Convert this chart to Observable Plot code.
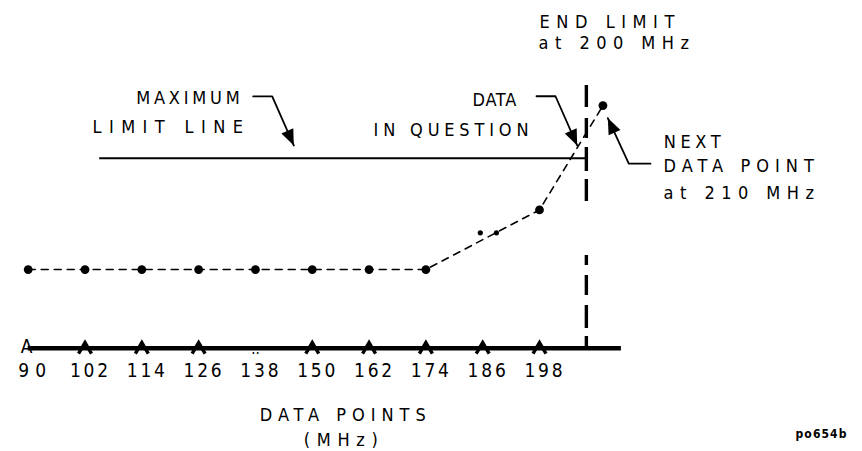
<!DOCTYPE html>
<html><head><meta charset="utf-8">
<script src="https://cdn.jsdelivr.net/npm/d3@7"></script>
<script src="https://cdn.jsdelivr.net/npm/@observablehq/plot@0.6"></script>
<style>
html,body{margin:0;padding:0;background:#fff;}
#chart svg{font-family:"DejaVu Sans","Liberation Sans",sans-serif;font-stretch:condensed;}
</style></head><body><div id="chart"></div>
<script>
// ---- data ----
// measured points (frequency in MHz, level in arbitrary units; limit line = 10)
const pointFreqs  = [90, 102, 114, 126, 138, 150, 162, 174, 198];
const pointLevels = [4.14, 4.14, 4.14, 4.14, 4.14, 4.14, 4.14, 4.14, 7.28];
// faint marks near 186 MHz (drawn off the dashed line)
const faintFreqs  = [185.5, 188.9];
const faintLevels = [6.07, 6.07];
// next data point (labelled 210 MHz, drawn slightly past the end limit)
const nextFreqLabel = 210;
const nextDrawnFreq = 211.4;
const nextLevel = 12.77;
// end limit (labelled 200 MHz, drawn position)
const endLimitLabel = 200;
const endLimitDrawnFreq = 207.9;
const endLimitTop = 13.83;
// maximum limit line
const limitLevel = 10;
const limitStartFreq = 105.1;
// axis
const axisEndFreq = 215.3;
const tickValues = [90, 102, 114, 126, 138, 150, 162, 174, 186, 198];
const tickLabels = ["90", "102", "114", "126", "138", "150", "162", "174", "186", "198"];
const tickGlyphs = ["A", "^", "^", "^", "..", "^", "^", "^", "^", "^"];
// annotation texts
const startNotes = ["END LIMIT", "at 200 MHz", "NEXT", "DATA POINT", "at 210 MHz"];
const startNoteX = [198.0, 197.8, 224.26, 224.2, 224.2];
const startNoteY = [17.16, 16.04, 10.84, 9.58, 8.13];
const midNotes = ["MAXIMUM", "LIMIT LINE", "DATA", "IN QUESTION", "DATA POINTS", "(MHz)"];
const midNoteX = [123.75, 119.47, 188.46, 179.31, 156.44, 156.03];
const midNoteY = [13.14, 11.63, 13.04, 11.49, -3.54, -4.86];
const captionText = "po654b";
const captionX = 257.46, captionY = -4.54;
// callout leaders (bend points, last one is the arrow tip)
const leaderMaxX = [137.53, 141.54, 146.1],  leaderMaxY = [13.25, 13.25, 10.67];
const leaderDataX = [197.37, 201.38, 205.96], leaderDataY = [13.26, 13.26, 10.67];
const leaderNextX = [221.45, 216.86, 212.43], leaderNextY = [9.71, 9.71, 12.11];

// ---- layout ----
const W = 862, H = 451;
const mL = 27.7, mR = W - 539, mT = 157.7, mB = H - 347.7;
const xDomain = [90, 198], yDomain = [0, 10];
const xs = d3.scaleLinear().domain(xDomain).range([mL, W - mR]);
const ys = d3.scaleLinear().domain(yDomain).range([H - mB, mT]);

// tables built from arrays
const points = pointFreqs.map((f, i) => ({x: f, y: pointLevels[i]}));
const nextPt = {x: nextDrawnFreq, y: nextLevel, label: nextFreqLabel};
const lineData = [...points, nextPt];
const faint = faintFreqs.map((f, i) => ({x: f, y: faintLevels[i]}));
const ticks = tickValues.map((v, i) => ({x: v, label: tickLabels[i], glyph: tickGlyphs[i]}));
const leaders = [];
[[leaderMaxX, leaderMaxY, "max"], [leaderDataX, leaderDataY, "data"], [leaderNextX, leaderNextY, "next"]]
  .forEach(([X, Y, k]) => X.forEach((x, i) => leaders.push({x, y: Y[i], k})));
const heads = [[leaderMaxX, leaderMaxY], [leaderDataX, leaderDataY], [leaderNextX, leaderNextY]].map(([X, Y]) => {
  const n = X.length;
  const dx = xs(X[n - 1]) - xs(X[n - 2]), dy = ys(Y[n - 1]) - ys(Y[n - 2]);
  return {x: X[n - 1], y: Y[n - 1], a: Math.atan2(dx, -dy) * 180 / Math.PI};
});
const startN = startNotes.map((t, i) => ({t, x: startNoteX[i], y: startNoteY[i]}));
const midN = midNotes.map((t, i) => ({t, x: midNoteX[i], y: midNoteY[i]}));

const chevron = {draw(c) { c.moveTo(-6.5, 5.5); c.lineTo(0, -5.5); c.lineTo(6.5, 5.5); }};
const arrowHead = {draw(c) { c.moveTo(0, 0); c.lineTo(-6.5, 16); c.lineTo(6.5, 16); c.closePath(); }};

const plot = Plot.plot({
  width: W, height: H,
  marginLeft: mL, marginRight: mR, marginTop: mT, marginBottom: mB,
  x: {domain: xDomain, axis: null},
  y: {domain: yDomain, axis: null},
  marks: [
    Plot.ruleY([{y: 0, x1: 90, x2: axisEndFreq}], {y: "y", x1: "x1", x2: "x2", stroke: "black", strokeWidth: 4.5}),
    Plot.ruleY([{y: limitLevel, x1: limitStartFreq, x2: endLimitDrawnFreq}], {y: "y", x1: "x1", x2: "x2", stroke: "black", strokeWidth: 2}),
    Plot.ruleX([{x: endLimitDrawnFreq, y1: 0, y2: endLimitTop}], {x: "x", y1: "y1", y2: "y2", stroke: "black", strokeWidth: 3.4,
      strokeDasharray: "11.7,8,23,10,20,10,10,54,22,8,24,9,20,11,22"}),
    Plot.line(lineData, {x: "x", y: "y", stroke: "black", strokeWidth: 1.6, strokeDasharray: "7,6"}),
    Plot.dot([...points, nextPt], {x: "x", y: "y", r: 4.4, fill: "black"}),
    Plot.dot(faint, {x: "x", y: "y", r: 2.6, fill: "black"}),
    Plot.dot(ticks.filter(d => d.glyph === "^"), {x: "x", y: () => 0, symbol: chevron, r: 5, stroke: "black", strokeWidth: 3.4, fill: "none", strokeLinejoin: "miter"}),
    Plot.text(ticks.filter(d => d.glyph === "A"), {x: "x", y: () => 0, text: "glyph", fontSize: 19, dx: -1.5, dy: -1, fill: "black"}),
    Plot.text(ticks.filter(d => d.glyph === ".."), {x: "x", y: () => 0, text: "glyph", fontSize: 15, dy: 1, fill: "black"}),
    Plot.text(ticks, {x: "x", y: () => -1.21, text: "label", fontSize: 19, dx: 4, fill: "black"}),
    Plot.line(leaders, {x: "x", y: "y", z: "k", stroke: "black", strokeWidth: 1.8}),
    Plot.dot(heads, {x: "x", y: "y", rotate: "a", symbol: arrowHead, fill: "black", stroke: "none"}),
    Plot.text(startN, {x: "x", y: "y", text: "t", textAnchor: "start", fontSize: 18, fill: "black"}),
    Plot.text(midN, {x: "x", y: "y", text: "t", textAnchor: "middle", fontSize: 18, fill: "black"}),
    Plot.text([{t: captionText, x: captionX, y: captionY}], {x: "x", y: "y", text: "t", fontSize: 12, fontWeight: "bold", fill: "black"})
  ]
});

// spread the lettering to the drawing's letter pitch
const notePitch = {"DATA": 11.3, "IN QUESTION": 14.5, "(MHz)": 16};
const tickPitch = {"90": 19};
const noteSet = new Set([...startNotes, ...midNotes]);
const tickSet = new Set(tickLabels);
plot.querySelectorAll("text").forEach(t => {
  const s = t.textContent;
  let len = null;
  if (noteSet.has(s)) len = (s.length - 1) * (notePitch[s] || 15.6) + 10;
  else if (tickSet.has(s)) len = (s.length - 1) * (tickPitch[s] || 14.6) + 9;
  else if (s === captionText) len = (s.length - 1) * 8.4 + 9;
  if (len != null) {
    t.setAttribute("textLength", len.toFixed(1));
    t.setAttribute("lengthAdjust", "spacing");
  }
});
document.getElementById("chart").appendChild(plot);
</script></body></html>
